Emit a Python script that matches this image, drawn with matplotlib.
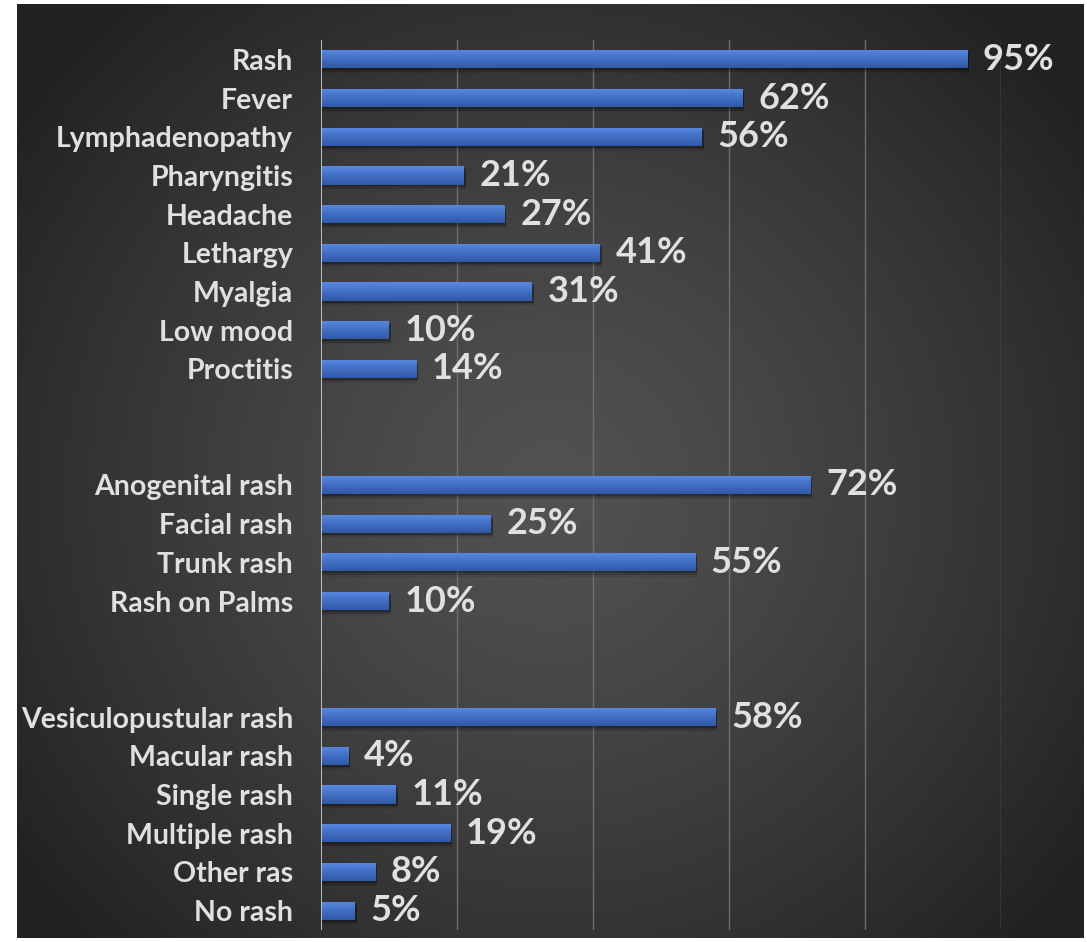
import matplotlib
matplotlib.use("Agg")
import matplotlib.pyplot as plt
import numpy as np

# symptom groups, top to bottom
symptoms = ["Rash", "Fever", "Lymphadenopathy", "Pharyngitis", "Headache",
            "Lethargy", "Myalgia", "Low mood", "Proctitis"]
symptom_pct = [95, 62, 56, 21, 27, 41, 31, 10, 14]

rash_sites = ["Anogenital rash", "Facial rash", "Trunk rash", "Rash on Palms"]
rash_site_pct = [72, 25, 55, 10]

rash_types = ["Vesiculopustular rash", "Macular rash", "Single rash",
              "Multiple rash", "Other ras", "No rash"]
rash_type_pct = [58, 4, 11, 19, 8, 5]

x_ticks = [0, 20, 40, 60, 80, 100]

GAP = 2  # empty category rows between groups

plt.rcParams['font.family'] = ['Lato', 'DejaVu Sans']
TEXT = '#e0e0e0'

labels, values, ypos = [], [], []
row = 0
for names, pcts in [(symptoms, symptom_pct), (rash_sites, rash_site_pct),
                    (rash_types, rash_type_pct)]:
    for n, v in zip(names, pcts):
        labels.append(n)
        values.append(v)
        ypos.append(row)
        row += 1
    row += GAP
n_rows = row - GAP

W, H = 1087, 942
fig = plt.figure(figsize=(W / 100, H / 100), dpi=100)
fig.patch.set_facecolor('white')

# dark radial-gradient panel
bg = fig.add_axes([17 / W, 1 - 938 / H, (1084 - 17) / W, (938 - 4) / H])
yy, xx = np.mgrid[0:1:400j, 0:1:460j]
d = np.sqrt(((xx - 0.5) / 0.62) ** 2 + ((yy - 0.52) / 0.70) ** 2)
d = np.clip(d, 0, 1)
shade = 0.32 - 0.19 * d ** 1.3
bg.imshow(np.dstack([shade] * 3), aspect='auto', extent=(0, 1, 0, 1),
          interpolation='bicubic')
bg.set_axis_off()

ax = fig.add_axes([321 / W, 1 - 930 / H, 680 / W, 890 / H])
ax.patch.set_alpha(0)

for t in x_ticks[1:]:
    ax.axvline(t, color='#6e6e6e', lw=1.0, zorder=1)
ax.axvline(0, color='#c8c8c8', lw=1.3, zorder=4)

bar_h = 0.47
y_arr = np.array(ypos, dtype=float)
# soft shadow under each bar
for off, a in [(0.05, 0.22), (0.09, 0.15), (0.13, 0.08)]:
    ax.barh(y_arr + off, np.array(values) + 0.25, height=bar_h, color='black',
            alpha=a, zorder=2, lw=0)
bars = ax.barh(y_arr, values, height=bar_h, color='#4472C4', zorder=3)

grad = np.linspace(0, 1, 64).reshape(-1, 1)
top_c = np.array([0x58, 0x8a, 0xe2]) / 255
mid_c = np.array([0x44, 0x72, 0xc8]) / 255
bot_c = np.array([0x30, 0x58, 0xa6]) / 255
g = np.where(grad < 0.45, grad / 0.45, (grad - 0.45) / 0.55)
rgb = np.where((grad < 0.45)[..., None],
               top_c + (mid_c - top_c) * g[..., None],
               mid_c + (bot_c - mid_c) * g[..., None])
for p in bars:
    x0, y0 = p.get_x(), p.get_y()
    im = ax.imshow(rgb, extent=(x0, x0 + p.get_width(), y0 + p.get_height(), y0),
                   aspect='auto', zorder=3, interpolation='bilinear')
    im.set_clip_path(p)

for y, v in zip(ypos, values):
    ax.text(v + 2.3, y, f"{v}%", va='center', ha='left', color=TEXT,
            fontsize=26, fontweight='bold', zorder=5)

ax.set_yticks(ypos)
ax.set_yticklabels(labels, fontsize=20.5, fontweight='bold', color=TEXT)
ax.tick_params(axis='y', length=0, pad=20)
ax.set_xticks([])
ax.set_xlim(0, 100)
ax.set_ylim(n_rows - 0.5, -0.5)
for s in ax.spines.values():
    s.set_visible(False)

fig.savefig('out.png', dpi=100)
